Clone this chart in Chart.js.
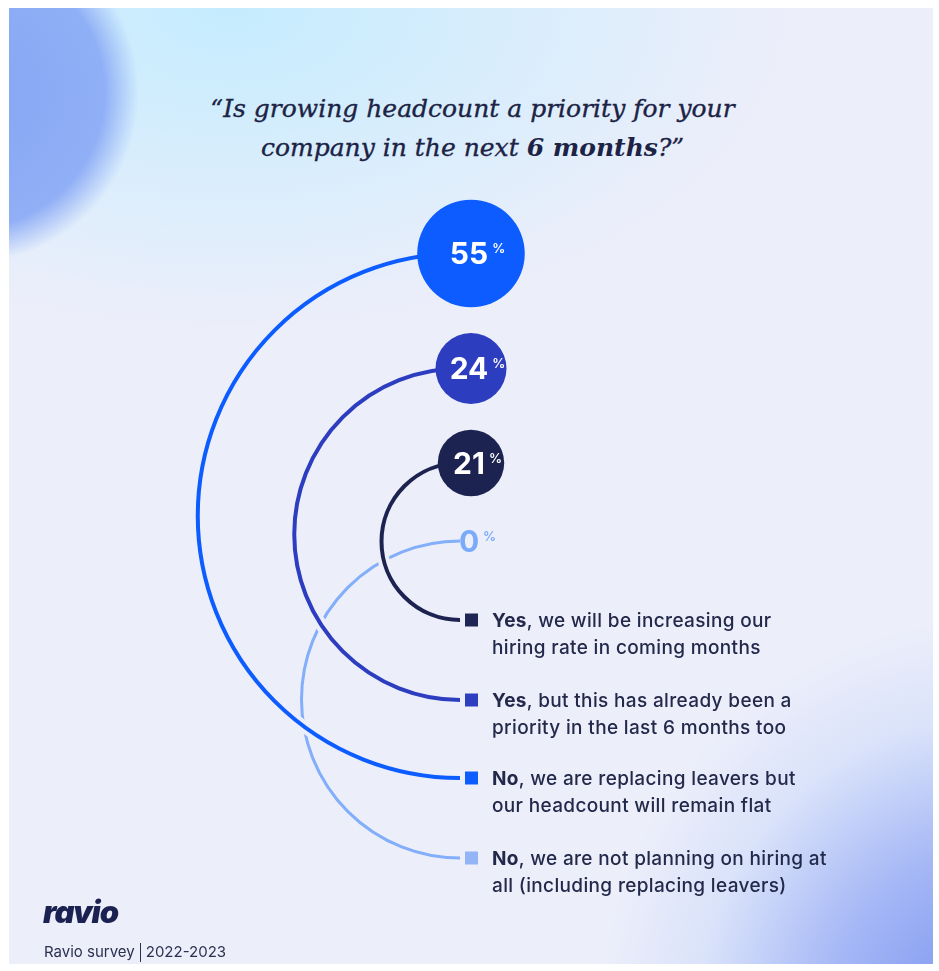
<!DOCTYPE html>
<html><head><meta charset="utf-8">
<script src="https://cdn.jsdelivr.net/npm/chart.js@4/dist/chart.umd.min.js"></script>
<style>
html,body{margin:0;padding:0;background:#ffffff;width:939px;height:971px;overflow:hidden;}
#panel{position:absolute;left:9px;top:8px;width:924px;height:956px;overflow:hidden;
background:
 radial-gradient(circle at -40px 85px, rgba(130,162,244,0.95) 0px, rgba(136,168,245,0.9) 135px, rgba(140,175,245,0) 170px),
 radial-gradient(ellipse 560px 320px at 220px 0px, rgba(192,236,255,0.9), rgba(200,235,255,0) 100%),
 radial-gradient(circle at 990px 1010px, rgba(112,138,238,0.95) 0px, rgba(135,160,244,0.7) 170px, rgba(175,200,250,0.3) 300px, rgba(200,220,250,0) 400px),
 #eceefa;}
#chart{position:absolute;left:0;top:0;}
#title{position:absolute;left:3px;top:89px;width:939px;text-align:center;font-family:"DejaVu Serif",serif;font-style:italic;font-size:25px;line-height:39px;color:#1c2345;-webkit-text-stroke:0.35px #1c2345;}
#title b{font-weight:bold;-webkit-text-stroke:0;}
.leg{position:absolute;left:492px;font-family:Inter,"Noto Sans",sans-serif;font-size:19px;font-weight:500;letter-spacing:0.35px;line-height:27px;color:#23294a;white-space:nowrap;}
.leg b{font-weight:700;}
#logo{position:absolute;left:43px;top:893px;font-family:Inter,sans-serif;font-weight:900;font-style:italic;font-size:31px;letter-spacing:-1px;color:#1b2150;}
#foot{position:absolute;left:44px;top:941px;font-family:Inter,sans-serif;font-size:15px;line-height:22px;color:#2b3050;}
#foot span{display:inline-block;width:1px;height:19px;background:#2b3050;vertical-align:-5px;margin:0 5px 0 5px;}
</style></head>
<body>
<div id="panel"></div>
<div id="title">“Is growing headcount a priority for your<br>company in the next <b>6 months</b>?”</div>
<canvas id="chart" width="939" height="971"></canvas>
<div id="legend"></div>
<div id="logo">ravio</div>
<div id="foot">Ravio survey<span></span>2022-2023</div>
<script>
// ---- data ----
const categories = [
  'Yes, we will be increasing our hiring rate in coming months',
  'Yes, but this has already been a priority in the last 6 months too',
  'No, we are replacing leavers but our headcount will remain flat',
  'No, we are not planning on hiring at all (including replacing leavers)'
];
const answerLead = ['Yes', 'Yes', 'No', 'No'];
const answerLine1 = [', we will be increasing our', ', but this has already been a', ', we are replacing leavers but', ', we are not planning on hiring at'];
const answerLine2 = ['hiring rate in coming months', 'priority in the last 6 months too', 'our headcount will remain flat', 'all (including replacing leavers)'];
const values = [21, 24, 55, 0];
const valueSuffix = '%';

// ---- style ----
const colors = ['#1d2350', '#2c3dbf', '#0c5cff', '#82aefa'];
const squareColors = ['#1f2653', '#2d3ec0', '#0c5cff', '#93b5f6'];
const labelColors = ['#ffffff', '#ffffff', '#ffffff', '#7aaaf9'];
const lineWidths = [4, 4, 4, 3];
const drawOrder = [3, 2, 1, 0];

// ---- layout (page units) ----
const bubbleX = 471;
const arcX = 460;
const bubbleY = [463, 368.5, 253.5, 541];
const legendY = [620, 700, 778, 858];
const sizeK = 7.25;

const arcPlugin = {
  id: 'arcs',
  beforeDatasetsDraw(chart) {
    const ctx = chart.ctx, xs = chart.scales.x, ys = chart.scales.y;
    ctx.save();
    ctx.lineCap = 'butt';
    drawOrder.forEach((i, k) => {
      const yTop = ys.getPixelForValue(bubbleY[i]);
      const yBot = ys.getPixelForValue(legendY[i]);
      const cx = xs.getPixelForValue(arcX);
      const cy = (yTop + yBot) / 2, R = (yBot - yTop) / 2;
      ctx.beginPath();
      ctx.arc(cx, cy, R, -Math.PI / 2, Math.PI / 2, true);
      if (k > 0) {
        ctx.globalCompositeOperation = 'destination-out';
        ctx.lineWidth = lineWidths[i] + 8;
        ctx.strokeStyle = '#000';
        ctx.stroke();
      }
      ctx.globalCompositeOperation = 'source-over';
      ctx.lineWidth = lineWidths[i];
      ctx.strokeStyle = colors[i];
      ctx.stroke();
    });
    ctx.restore();
  },
  afterDatasetsDraw(chart) {
    const ctx = chart.ctx, xs = chart.scales.x, ys = chart.scales.y;
    const meta = chart.getDatasetMeta(0);
    ctx.save();
    values.forEach((v, i) => {
      const x0 = xs.getPixelForValue(arcX) + 5;
      const y = ys.getPixelForValue(legendY[i]);
      ctx.fillStyle = squareColors[i];
      ctx.fillRect(x0, y - 6.5, 13, 13);
    });
    meta.data.forEach((el, i) => {
      const txt = String(values[i]);
      ctx.font = '700 30px Inter';
      const w = ctx.measureText(txt).width;
      const nx = el.x - 2 - w / 2;
      const base = el.y + 10.9;
      ctx.fillStyle = labelColors[i];
      ctx.textBaseline = 'alphabetic';
      ctx.textAlign = 'left';
      ctx.fillText(txt, nx, base);
      ctx.font = '600 13px Inter';
      ctx.fillText(valueSuffix, nx + w + 4, base - 11);
    });
    ctx.restore();
  }
};

const chart = new Chart(document.getElementById('chart'), {
  type: 'bubble',
  data: {
    labels: categories,
    datasets: [{
      data: values.map((v, i) => ({ x: bubbleX, y: bubbleY[i] })),
      backgroundColor: colors,
      borderWidth: 0,
      radius: (c) => sizeK * Math.sqrt(values[c.dataIndex]),
      hoverRadius: 0
    }]
  },
  options: {
    responsive: false,
    animation: false,
    events: [],
    layout: { padding: 0, autoPadding: false },
    plugins: { legend: { display: false }, tooltip: { enabled: false } },
    scales: {
      x: { type: 'linear', display: false, min: 0, max: 939 },
      y: { type: 'linear', display: false, min: 0, max: 971, reverse: true }
    }
  },
  plugins: [arcPlugin]
});

const legendBox = document.getElementById('legend');
values.forEach((v, i) => {
  const d = document.createElement('div');
  d.className = 'leg';
  d.style.top = (chart.scales.y.getPixelForValue(legendY[i]) - 13.5) + 'px';
  d.innerHTML = '<b>' + answerLead[i] + '</b>' + answerLine1[i] + '<br>' + answerLine2[i];
  legendBox.appendChild(d);
});
</script>
</body></html>
